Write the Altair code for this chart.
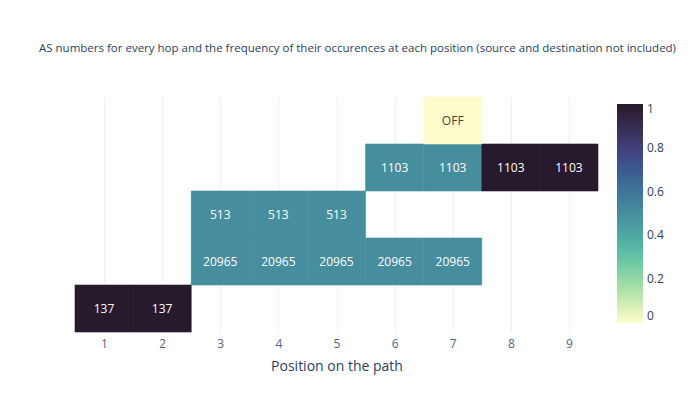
import altair as alt
import pandas as pd

# Data
as_order = ["OFF", "1103", "513", "20965", "137"]
asn = ["137", "137",
       "20965", "20965", "20965", "20965", "20965",
       "513", "513", "513",
       "1103", "1103", "1103", "1103",
       "OFF"]
pos = [1, 2,
       3, 4, 5, 6, 7,
       3, 4, 5,
       6, 7, 8, 9,
       7]
freq = [1, 1,
        0.5, 0.5, 0.5, 0.5, 0.5,
        0.5, 0.5, 0.5,
        0.5, 0.5, 1, 1,
        0]
x_ticks = [1, 2, 3, 4, 5, 6, 7, 8, 9]
legend_ticks = [0, 0.2, 0.4, 0.6, 0.8, 1]

# plotly "deep" colorscale
deep = ["rgb(253,253,204)", "rgb(206,236,179)", "rgb(156,219,165)", "rgb(111,201,163)",
        "rgb(86,177,163)", "rgb(76,153,160)", "rgb(68,130,155)", "rgb(62,108,150)",
        "rgb(62,82,143)", "rgb(64,60,115)", "rgb(54,43,77)", "rgb(39,26,44)"]
deep_domain = [i / 11 for i in range(12)]

df = pd.DataFrame({"asn": asn, "pos": pos, "freq": freq})
df["x0"] = df["pos"] - 0.5
df["x1"] = df["pos"] + 0.5

FONT = "Open Sans"

base = alt.Chart(df)

x_enc = alt.X("x0:Q",
              scale=alt.Scale(domain=[0.5, 9.5], nice=False, zero=False),
              axis=alt.Axis(values=x_ticks, title="Position on the path", grid=True,
                            gridColor="#EBF0F8", domain=False, ticks=False,
                            labelColor="#506784", labelFont=FONT, labelFontSize=12,
                            labelPadding=6, titleColor="#2a3f5f", titleFont=FONT,
                            titleFontSize=14, titleFontWeight="normal", titlePadding=10,
                            format="d"))
y_enc = alt.Y("asn:N", sort=as_order,
              scale=alt.Scale(domain=as_order, paddingInner=0, paddingOuter=0),
              axis=None)

rects = base.mark_rect(
    strokeWidth=0.6,
    stroke=alt.ExprRef(expr="scale('color', datum.freq)"),
).encode(
    x=x_enc,
    x2="x1:Q",
    y=y_enc,
    color=alt.Color("freq:Q",
                    scale=alt.Scale(domain=deep_domain, range=deep, type="linear"),
                    legend=alt.Legend(title=None, orient="none", legendX=542, legendY=7,
                                      gradientLength=219, gradientThickness=26,
                                      values=legend_ticks, format="~g",
                                      labelColor="#2a3f5f", labelFont=FONT,
                                      labelFontSize=12, gradientStrokeWidth=0,
                                      labelOffset=4)),
)

labels = base.mark_text(font=FONT, fontSize=12).encode(
    x=alt.X("pos:Q", scale=alt.Scale(domain=[0.5, 9.5], nice=False, zero=False)),
    y=alt.Y("asn:N", sort=as_order,
            scale=alt.Scale(domain=as_order, paddingInner=0, paddingOuter=0),
            axis=None, bandPosition=0.5),
    text="asn:N",
    color=alt.condition(alt.datum.freq < 0.3, alt.value("#444444"), alt.value("#ffffff")),
)

chart = alt.layer(rects, labels).properties(
    width=523,
    height=235,
    padding={"left": 31, "top": 35, "right": 5, "bottom": 5},
    title=alt.Title(
        "AS numbers for every hop and the frequency of their occurences at each position (source and destination not included)",
        anchor="start", frame="group", dx=-36, offset=42,
        font=FONT, fontSize=11.5, fontWeight="normal", color="#2a3f5f"),
).configure(background="white").configure_view(stroke=None, strokeWidth=0)

chart.save("out.html", embed_options={"renderer": "svg", "actions": False})
